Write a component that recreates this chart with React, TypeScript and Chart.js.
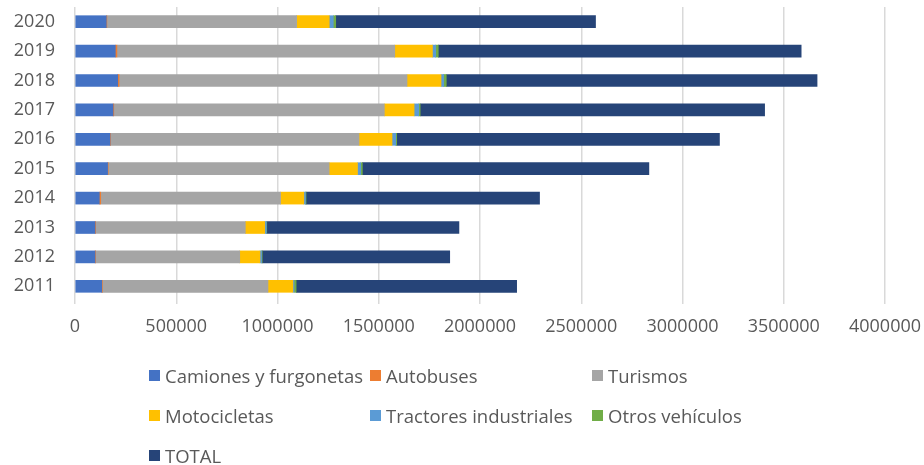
import React, { useEffect, useRef } from "react";
import { Chart, registerables } from "chart.js";

Chart.register(...registerables);

const years = ["2020", "2019", "2018", "2017", "2016", "2015", "2014", "2013", "2012", "2011"];
const camiones = [154500, 199000, 211000, 188000, 173000, 161000, 120000, 99000, 99000, 132000];
const autobuses = [3000, 8000, 6500, 3500, 2500, 3000, 7000, 3000, 2500, 3000];
const turismos = [937000, 1372000, 1422000, 1336000, 1227000, 1091000, 888000, 739000, 712000, 818000];
const motocicletas = [161000, 186000, 168000, 147000, 163000, 140000, 115000, 96000, 100000, 123000];
const tractores = [20000, 16000, 13000, 23000, 18000, 16000, 8000, 8000, 8000, 6000];
const otros = [12000, 13000, 13000, 7000, 5000, 8000, 3000, 2000, 3000, 10000];
const total = [1283000, 1792000, 1831000, 1701000, 1594000, 1415000, 1153000, 949000, 926000, 1089000];
const xTicks = [0, 500000, 1000000, 1500000, 2000000, 2500000, 3000000, 3500000, 4000000];

const seriesNames = [
  "Camiones y furgonetas",
  "Autobuses",
  "Turismos",
  "Motocicletas",
  "Tractores industriales",
  "Otros vehículos",
  "TOTAL",
];
const seriesColors = ["#4472C4", "#ED7D31", "#A5A5A5", "#FFC000", "#5B9BD5", "#70AD47", "#264478"];
const seriesData = [camiones, autobuses, turismos, motocicletas, tractores, otros, total];

const FONT = "'Open Sans', sans-serif";
const TEXT = "#595959";

export default function App() {
  const ref = useRef<HTMLCanvasElement | null>(null);

  useEffect(() => {
    if (!ref.current) return;
    const chart = new Chart(ref.current, {
      type: "bar",
      data: {
        labels: years,
        datasets: seriesNames.map((name, i) => ({
          label: name,
          data: seriesData[i],
          backgroundColor: seriesColors[i],
          borderWidth: 0,
          barThickness: 12,
        })),
      },
      options: {
        indexAxis: "y",
        responsive: false,
        animation: false,
        devicePixelRatio: 1,
        layout: { padding: { top: 7, right: 39, left: 0, bottom: 0 } },
        plugins: { legend: { display: false }, tooltip: { enabled: false } },
        scales: {
          x: {
            stacked: true,
            min: 0,
            max: 4000000,
            afterBuildTicks: (s: any) => {
              s.ticks = xTicks.map((v) => ({ value: v }));
            },
            afterFit: (s: any) => {
              s.height = 164;
              s.paddingLeft = 0;
              s.paddingRight = 0;
            },
            grid: { color: "#D9D9D9", lineWidth: 1.5, drawTicks: true, tickLength: 3 },
            border: { display: false },
            ticks: {
              color: TEXT,
              font: { family: FONT, size: 18 },
              padding: 12,
              maxRotation: 0,
              autoSkip: false,
              callback: (v: any) => String(v),
            },
          },
          y: {
            stacked: true,
            afterFit: (s: any) => {
              s.width = 75;
              s.paddingTop = 0;
              s.paddingBottom = 0;
            },
            grid: { display: false, drawTicks: false },
            border: { display: false },
            ticks: {
              color: TEXT,
              font: { family: FONT, size: 18 },
              padding: 20,
            },
          },
        },
      },
    });
    return () => chart.destroy();
  }, []);

  const legendPos = [
    [149, 375],
    [370, 375],
    [592, 375],
    [149, 415],
    [370, 415],
    [592, 415],
    [149, 455],
  ];

  return (
    <div style={{ position: "fixed", left: 0, top: 0, width: 924, height: 465, background: "#fff", overflow: "hidden" }}>
      <canvas ref={ref} width={924} height={465} style={{ position: "absolute", left: 0, top: 0 }} />
      {seriesNames.map((name, i) => (
        <div
          key={name}
          style={{
            position: "absolute",
            left: legendPos[i][0],
            top: legendPos[i][1] - 13,
            height: 26,
            display: "flex",
            alignItems: "center",
            whiteSpace: "nowrap",
            fontFamily: FONT,
            fontSize: 18.5,
            color: TEXT,
          }}
        >
          <span style={{ display: "inline-block", width: 11, height: 11, background: seriesColors[i], marginRight: 5 }} />
          <span>{name}</span>
        </div>
      ))}
    </div>
  );
}
